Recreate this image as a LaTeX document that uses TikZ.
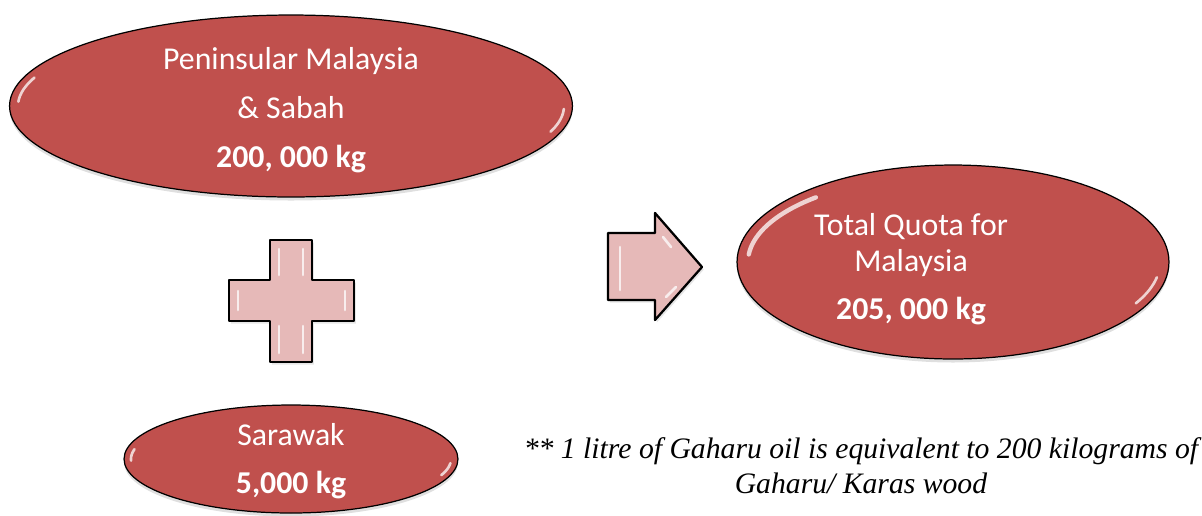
\documentclass[tikz,border=0pt]{standalone}
\usepackage{fontspec}
\setmainfont{Carlito}
\newfontfamily\notefont{Liberation Serif}
\usetikzlibrary{shapes.geometric,shadows}
\definecolor{quotared}{HTML}{C0504D}
\definecolor{signpink}{HTML}{E6B9B8}

\tikzset{
  blob/.style={ellipse, draw=black, line width=0.7pt, fill=quotared, inner sep=0pt,
    drop shadow={opacity=0.25, shadow xshift=0pt, shadow yshift=-2pt}},
  blobtext/.style={text=white, align=center, inner sep=0pt, font=\fontsize{18.1}{20.5}\selectfont},
  sign/.style={draw=black, line width=1.3pt, fill=signpink, line join=round,
    drop shadow={opacity=0.2, shadow xshift=1pt, shadow yshift=-1.5pt}},
  shine/.style={white, line width=1.5pt, opacity=0.75, line cap=round},
  note/.style={align=center, inner sep=0pt, font=\notefont\itshape\fontsize{16.9}{20}\selectfont},
}

\begin{document}
\begin{tikzpicture}[x=0.02cm,y=-0.02cm]
			\useasboundingbox (0,0) rectangle (1202,515);
			% the three quotas
			\node[blob, minimum width=11.26cm, minimum height=3.64cm] (penin) at (291,106) {};
			\node[blob, minimum width=6.68cm, minimum height=2.16cm] (sarawak) at (291,459) {};
			\node[blob, minimum width=8.64cm, minimum height=3.88cm] (total) at (953,262) {};
			\node[blobtext] (penintxt) at (291,110) {Peninsular Malaysia\\[7.3pt]\& Sabah\\[7.3pt]\textbf{200, 000 kg}};
			\node[blobtext] (sarawaktxt) at (291,461) {Sarawak\\[6.7pt]\textbf{5,000 kg}};
			\node[blobtext] (totaltxt) at (911,269) {Total Quota for\\Malaysia\\[6.7pt]\textbf{205, 000 kg}};
			% gloss on the ovals
			\draw[shine] plot[domain=183:200,samples=12] ({291+273*cos(\x)},{106+83*sin(\x)});
			\draw[shine] plot[domain=2:18,samples=12] ({291+273*cos(\x)},{106+83*sin(\x)});
			\draw[shine] plot[domain=178:192,samples=12] ({291+160*cos(\x)},{459+47*sin(\x)});
			\draw[shine] plot[domain=5:20,samples=12] ({291+160*cos(\x)},{459+47*sin(\x)});
			\draw[shine,line width=2.5pt] plot[domain=185:228,samples=20] ({953+205*cos(\x)},{262+87*sin(\x)});
			\draw[shine] plot[domain=10:28,samples=12] ({953+207*cos(\x)},{262+88*sin(\x)});
			% plus sign
			\draw[sign] (270,240) -- (312,240) -- (312,280) -- (354,280) -- (354,321) -- (312,321) -- (312,362) -- (270,362) -- (270,321) -- (229,321) -- (229,280) -- (270,280) -- cycle;
			\draw[shine] (279,249) -- (279,275);
			\draw[shine] (303,249) -- (303,275);
			\draw[shine] (279,326) -- (279,353);
			\draw[shine] (303,326) -- (303,353);
			\draw[shine] (238,291) -- (238,310);
			\draw[shine] (345,291) -- (345,310);
			% arrow
			\draw[sign] (608,233) -- (655,233) -- (655,213) -- (702,267) -- (655,320) -- (655,300) -- (608,300) -- cycle;
			\draw[shine] (620,247) -- (620,290);
			\draw[shine] (663,237) -- (671,247);
			\draw[shine] (666,297) -- (676,287);
			% footnote
			\node[note] (remark) at (861,466) {** 1 litre of Gaharu oil is equivalent to 200 kilograms of\\Gaharu/ Karas wood};
		\end{tikzpicture}
\end{document}
